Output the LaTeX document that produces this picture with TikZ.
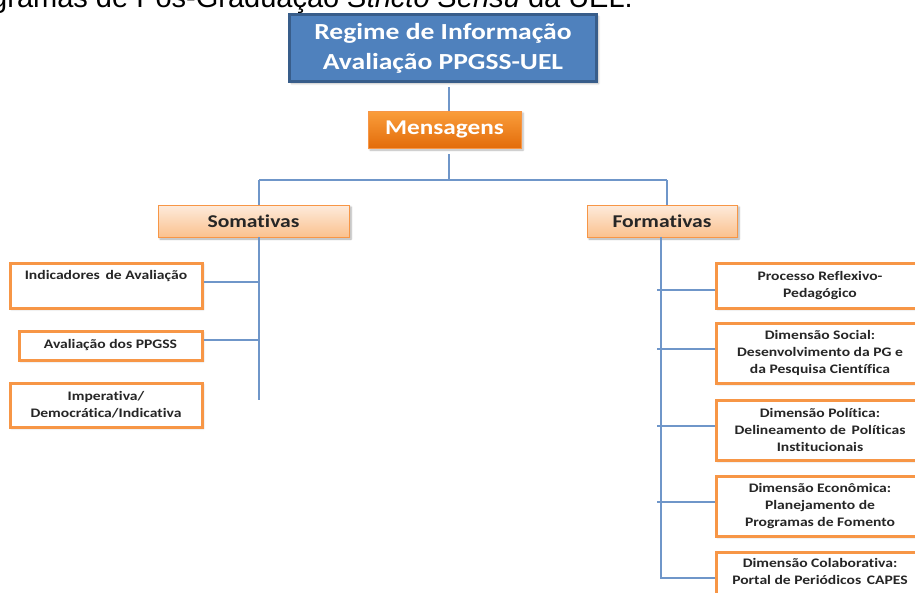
\documentclass[tikz,border=0pt]{standalone}
\usepackage{fontspec}
\setmainfont{Carlito}
\newfontfamily\titlefont{Liberation Sans}
\newfontfamily\headfont[FakeStretch=1.2, Ligatures=NoCommon]{Carlito}
\newfontfamily\leaffont[FakeStretch=1.2, Ligatures=NoCommon]{Carlito}
\usetikzlibrary{shadows.blur}

\definecolor{hdblue}{HTML}{4F81BD}
\definecolor{hdblueedge}{HTML}{385D8A}
\definecolor{orgtop}{HTML}{FA9E3C}
\definecolor{orgbot}{HTML}{E36C0A}
\definecolor{peachtop}{HTML}{FDEBDC}
\definecolor{peachbot}{HTML}{FBC18E}
\definecolor{orgedge}{HTML}{F79646}
\definecolor{linkblue}{HTML}{6F96C9}
\definecolor{txtdark}{HTML}{262626}

\tikzset{
  headbox/.style={draw=hdblueedge, line width=3pt, fill=hdblue, text=white,
    font=\headfont\bfseries\fontsize{23}{30}\selectfont, align=center,
    minimum width=307pt, minimum height=67pt, inner sep=0pt,
    blur shadow={shadow xshift=2pt, shadow yshift=-2pt, shadow opacity=30, shadow blur steps=4}},
  msgbox/.style={draw=orgedge, line width=0.8pt, top color=orgtop, bottom color=orgbot,
    text=white, font=\headfont\bfseries\fontsize{21}{24}\selectfont,
    minimum width=153pt, minimum height=37pt, inner sep=0pt,
    blur shadow={shadow xshift=2pt, shadow yshift=-2pt, shadow opacity=30, shadow blur steps=4}},
  groupbox/.style={draw=orgedge, line width=0.8pt, top color=peachtop, bottom color=peachbot,
    text=txtdark, font=\headfont\bfseries\fontsize{18}{20}\selectfont,
    minimum height=32pt, inner sep=0pt,
    blur shadow={shadow xshift=2pt, shadow yshift=-2pt, shadow opacity=35, shadow blur steps=4}},
  leafbox/.style={draw=orgedge, line width=3pt, fill=white, text=txtdark,
    font=\leaffont\bfseries\fontsize{13}{17}\selectfont, align=center, inner sep=0pt,
    blur shadow={shadow xshift=1.5pt, shadow yshift=-1.5pt, shadow opacity=25, shadow blur steps=4}},
  link/.style={draw=linkblue, line width=2pt},
}

\begin{document}
\begin{tikzpicture}[x=1pt, y=-1pt]
  \useasboundingbox (0,0) rectangle (915,592);
  \clip (0,0) rectangle (915,592);

  % running caption of the page, cut by the top margin
  \node[anchor=base east, inner sep=0pt, font=\titlefont\fontsize{29}{32}\selectfont]
    (caption) at (633,7) {Programas de Pós-Graduação \textit{Stricto Sensu} da UEL.};

  % upper levels
  \node[headbox] (top) at (443,48) {Regime de Informação\\Avaliação PPGSS-UEL};
  \node[msgbox] (msg) at (444.5,129.5) {Mensagens};
  \node[groupbox, minimum width=191pt] (som) at (253.5,221) {Somativas};
  \node[groupbox, minimum width=150pt] (form) at (662,221) {Formativas};

  % summative leaves
  \node[leafbox, minimum width=192pt, minimum height=45pt] (ind) at (106,285.5)
    {Indicadores\, de Avaliação\\\strut};
  \node[leafbox, minimum width=183pt, minimum height=29pt] (ava) at (110.5,345.5)
    {Avaliação dos PPGSS};
  \node[leafbox, minimum width=192pt, minimum height=44pt] (imp) at (106,405)
    {Imperativa/\\Democrática/Indicativa};

  % formative leaves
  \node[leafbox, minimum width=208pt, minimum height=45pt] (r1) at (820,285.5)
    {Processo Reflexivo-\\Pedagógico};
  \node[leafbox, minimum width=208pt, minimum height=60pt] (r2) at (820,353)
    {Dimensão Social:\\Desenvolvimento da PG e\\da Pesquisa Científica};
  \node[leafbox, minimum width=208pt, minimum height=60pt] (r3) at (820,430)
    {Dimensão Política:\\Delineamento de\, Políticas\\Institucionais};
  \node[leafbox, minimum width=208pt, minimum height=60pt] (r4) at (820,506)
    {Dimensão Econômica:\\Planejamento de\\Programas de Fomento};
  \node[leafbox, minimum width=208pt, minimum height=60pt] (r5) at (820,582)
    {Dimensão Colaborativa:\\Portal de Periódicos\, CAPES\\\strut};

  % junction points of the tree
  \coordinate (hub) at (449,180);
  \coordinate (sL) at (259,180);
  \coordinate (sR) at (667,180);
  \coordinate (sEnd) at (259,400);
  \coordinate (fTop) at (661,237);
  \coordinate (fEnd) at (661,578);

  % connectors
  \draw[link] (top.south -| hub) ++(0,4) -- (msg.north -| hub);
  \draw[link] (msg.south -| hub) ++(0,6) -- (hub);
  \draw[link] (sL) -- (sR);
  \draw[link] (sL) -- (som.north -| sL);
  \draw[link] (sR) -- (form.north -| sR);

  \draw[link] (som.south -| sL) -- (sEnd);
  \draw[link] ([yshift=3.5pt]ind.east) -- ([yshift=3.5pt]ind.east -| sL);
  \draw[link] ([yshift=5.5pt]ava.east) -- ([yshift=5.5pt]ava.east -| sL);

  \draw[link] (fTop) -- (fEnd);
  \draw[link] ([yshift=-4.5pt]r1.west) -- ([xshift=-4pt,yshift=-4.5pt]r1.west -| fTop);
  \draw[link] ([yshift=4pt]r2.west) -- ([xshift=-4pt,yshift=4pt]r2.west -| fTop);
  \draw[link] ([yshift=4pt]r3.west) -- ([xshift=-4pt,yshift=4pt]r3.west -| fTop);
  \draw[link] ([yshift=4pt]r4.west) -- ([xshift=-4pt,yshift=4pt]r4.west -| fTop);
  \draw[link] ([yshift=4pt]r5.west) -- ([xshift=-1pt,yshift=4pt]r5.west -| fTop);
\end{tikzpicture}
\end{document}
